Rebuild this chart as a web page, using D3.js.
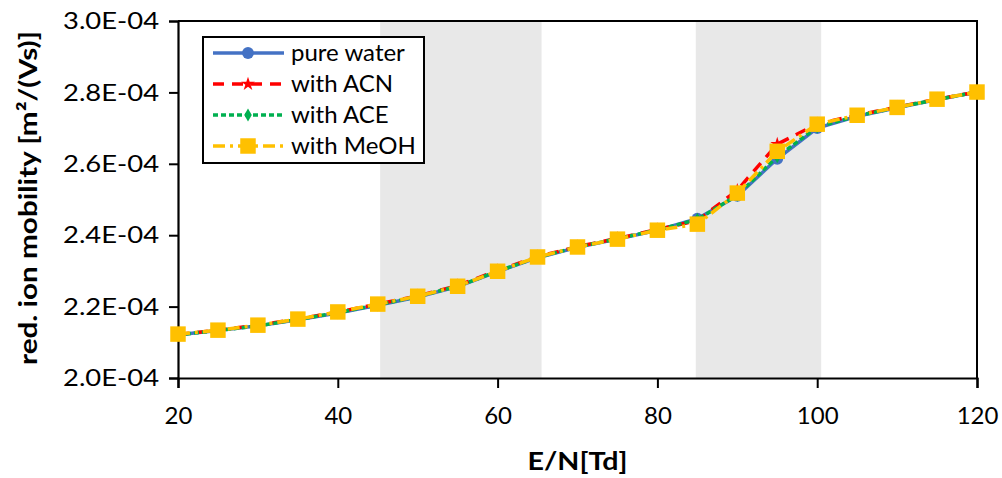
<!DOCTYPE html>
<html>
<head>
<meta charset="utf-8">
<script src="https://cdn.jsdelivr.net/npm/d3@7"></script>
<style>
  body { margin: 0; background: #fff; }
  svg { display: block; font-family: Lato, "Open Sans", sans-serif; }
</style>
</head>
<body>
<script>
var width = 1002;
var height = 478;

// E/N values [Td]
var fields = [20, 25, 30, 35, 40, 45, 50, 55, 60, 65, 70, 75, 80, 85, 90, 95, 100, 105, 110, 115, 120];

// reduced ion mobility in units of 1e-4 m^2/(Vs)
var pureWater = [2.121, 2.133, 2.146, 2.163, 2.182, 2.204, 2.227, 2.256, 2.298, 2.337, 2.366, 2.389, 2.414, 2.446, 2.510, 2.614, 2.700, 2.733, 2.757, 2.780, 2.801];
var withACN   = [2.122, 2.134, 2.148, 2.165, 2.185, 2.207, 2.230, 2.259, 2.301, 2.340, 2.368, 2.391, 2.416, 2.441, 2.526, 2.655, 2.712, 2.736, 2.759, 2.781, 2.801];
var withACE   = [2.121, 2.133, 2.146, 2.164, 2.183, 2.205, 2.228, 2.257, 2.299, 2.338, 2.367, 2.390, 2.415, 2.444, 2.512, 2.620, 2.703, 2.734, 2.758, 2.780, 2.801];
var withMeOH  = [2.123, 2.134, 2.148, 2.165, 2.185, 2.207, 2.229, 2.257, 2.299, 2.339, 2.367, 2.389, 2.414, 2.431, 2.518, 2.635, 2.711, 2.736, 2.758, 2.781, 2.801];

// shaded E/N ranges
var bands = [[45.3, 65.5], [84.8, 100.5]];

var yTicks = [2.0, 2.2, 2.4, 2.6, 2.8, 3.0];
var xTicks = [20, 40, 60, 80, 100, 120];

var seriesNames = ['pure water', 'with ACN', 'with ACE', 'with MeOH'];
var seriesData = [pureWater, withACN, withACE, withMeOH];

var styles = [
  { color: '#4472C4', dash: null, marker: 'circle', size: 110 },
  { color: '#FF0000', dash: '11,8', marker: 'star', size: 60 },
  { color: '#00B050', dash: '5,3', marker: 'diamond', size: 50 },
  { color: '#FFC000', dash: '12,5,3,5', marker: 'square', size: 240 }
];

var symbolTypes = {
  circle: d3.symbolCircle,
  star: d3.symbolStar,
  diamond: d3.symbolDiamond,
  square: d3.symbolSquare
};

var margin = { left: 178, right: 25, top: 21, bottom: 100 };

var svg = d3.select('body').append('svg')
  .attr('width', width)
  .attr('height', height);

var x = d3.scaleLinear().domain([20, 120]).range([margin.left, width - margin.right]);
var y = d3.scaleLinear().domain([2.0, 3.0]).range([height - margin.bottom, margin.top]);

// grey bands
svg.selectAll('.band')
  .data(bands)
  .enter().append('rect')
  .attr('class', 'band')
  .attr('x', d => x(d[0]))
  .attr('y', y(3.0))
  .attr('width', d => x(d[1]) - x(d[0]))
  .attr('height', y(2.0) - y(3.0))
  .attr('fill', '#E8E8E8');

// plot frame (top and right)
svg.append('path')
  .attr('d', 'M' + x(20) + ',' + y(3.0) + 'H' + x(120) + 'V' + y(2.0))
  .attr('fill', 'none')
  .attr('stroke', '#000')
  .attr('stroke-width', 2);

// axes
var xAxis = d3.axisBottom(x).tickValues(xTicks).tickSize(10).tickPadding(19);
var yAxis = d3.axisLeft(y).tickValues(yTicks).tickSize(9).tickPadding(10)
  .tickFormat(d => d.toFixed(1) + 'E-04');

var gx = svg.append('g')
  .attr('transform', 'translate(0,' + y(2.0) + ')')
  .call(xAxis);
var gy = svg.append('g')
  .attr('transform', 'translate(' + x(20) + ',0)')
  .call(yAxis);

[gx, gy].forEach(g => {
  g.select('.domain').attr('stroke', '#000').attr('stroke-width', 2.2);
  g.selectAll('.tick line').attr('stroke', '#000').attr('stroke-width', 2);
  g.selectAll('.tick text')
    .attr('fill', '#000')
    .style('font-family', 'Lato, "Open Sans", sans-serif')
    .style('font-size', '24px');
});
gy.selectAll('.tick text').attr('textLength', 96).attr('lengthAdjust', 'spacingAndGlyphs');

// lines and markers
var line = d3.line()
  .x((d, i) => x(fields[i]))
  .y(d => y(d));

seriesData.forEach((vals, k) => {
  var st = styles[k];
  var g = svg.append('g').attr('class', 'series');
  g.append('path')
    .datum(vals)
    .attr('d', line)
    .attr('fill', 'none')
    .attr('stroke', st.color)
    .attr('stroke-width', 3.5)
    .attr('stroke-dasharray', st.dash);
  g.selectAll('.pt')
    .data(vals)
    .enter().append('path')
    .attr('class', 'pt')
    .attr('transform', (d, i) => 'translate(' + x(fields[i]) + ',' + y(d) + ')')
    .attr('d', d3.symbol().type(symbolTypes[st.marker]).size(st.size))
    .attr('fill', st.color);
});

// legend
var legend = svg.append('g').attr('transform', 'translate(203,37)');
legend.append('rect')
  .attr('width', 221)
  .attr('height', 126)
  .attr('fill', '#fff')
  .attr('stroke', '#000')
  .attr('stroke-width', 2);

seriesNames.forEach((name, k) => {
  var st = styles[k];
  var ly = 16 + k * 31;
  var row = legend.append('g').attr('transform', 'translate(0,' + ly + ')');
  row.append('line')
    .attr('x1', 10).attr('x2', 81)
    .attr('y1', 0).attr('y2', 0)
    .attr('stroke', st.color)
    .attr('stroke-width', 3.5)
    .attr('stroke-dasharray', st.dash);
  row.append('path')
    .attr('transform', 'translate(45,0)')
    .attr('d', d3.symbol().type(symbolTypes[st.marker]).size(st.size))
    .attr('fill', st.color);
  row.append('text')
    .attr('x', 88)
    .attr('y', 8)
    .style('font-size', '24px')
    .text(name);
});

// axis titles
svg.append('text')
  .attr('transform', 'translate(' + 37 + ',' + 198 + ') rotate(-90)')
  .attr('text-anchor', 'middle')
  .attr('textLength', 334)
  .attr('lengthAdjust', 'spacingAndGlyphs')
  .style('font-size', '25px')
  .style('font-weight', 'bold')
  .text('red. ion mobility [m²/(Vs)]');

svg.append('text')
  .attr('x', (x(20) + x(120)) / 2)
  .attr('y', 470)
  .attr('text-anchor', 'middle')
  .attr('textLength', 100)
  .attr('lengthAdjust', 'spacingAndGlyphs')
  .style('font-size', '25px')
  .style('font-weight', 'bold')
  .text('E/N[Td]');
</script>
</body>
</html>
